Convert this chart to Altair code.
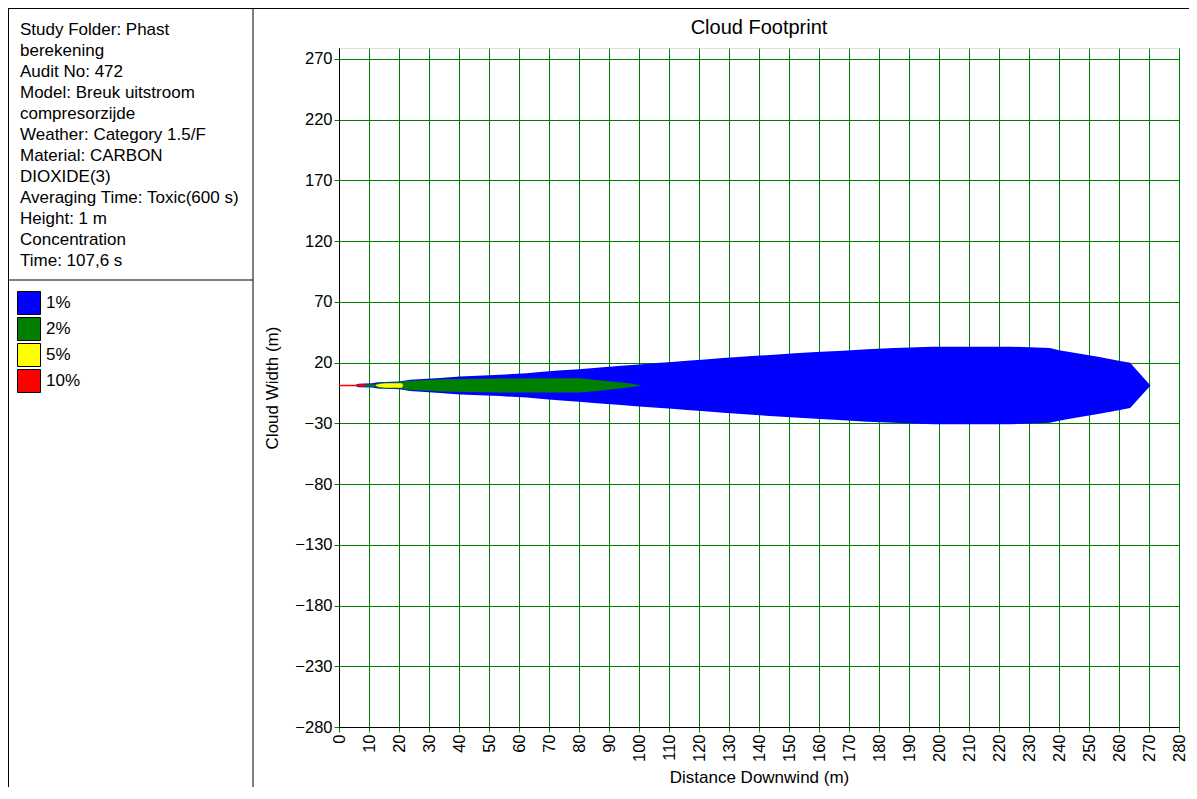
import altair as alt
import pandas as pd

# ---------------- data ----------------
levels = ["1%", "2%", "5%", "10%"]
level_colors = ["#0000FF", "#008000", "#FFFF00", "#FF0000"]

# cloud footprint half-widths (m) against distance downwind (m)
blue_x = [5, 6.5, 11, 13, 20, 23.7, 33.7, 40.3, 53.7, 62.6, 67, 73, 80, 87, 93, 100,
          106, 111, 116, 122, 128, 133, 139, 145, 152, 159, 168, 176, 185, 198, 224,
          237, 240, 246, 253, 259, 263.7, 270.5]
blue_hw = [0, 1.4, 1.8, 2.6, 3.2, 4.6, 6.2, 7.4, 8.8, 10.0, 11.0, 12.2, 13.4, 14.8, 16.0, 17.3,
           18.4, 19.2, 20.3, 21.3, 22.5, 23.4, 24.4, 25.3, 26.5, 27.5, 28.6, 29.8, 30.8, 31.9, 31.9,
           30.8, 29.0, 26.5, 23.6, 20.8, 18.6, 0]
green_x = [7, 12.5, 13, 21, 21.5, 34, 54, 80, 86, 92.6, 97, 101]
green_hw = [0.8, 1.0, 2.3, 2.6, 3.4, 5.0, 5.8, 5.9, 4.5, 2.8, 1.5, 0]
yellow_x = [12.3, 13.5, 15.5, 21.0, 21.4]
yellow_hw = [0.5, 1.2, 1.9, 1.9, 0]
red_x = [0, 6.3, 6.4, 8.7, 8.8]
red_hw = [0.6, 0.6, 0.9, 0.9, 0]
cloud_center = 1.2

chart_title = "Cloud Footprint"
info_lines = [
    "Study Folder: Phast",
    "berekening",
    "Audit No: 472",
    "Model: Breuk uitstroom",
    "compresorzijde",
    "Weather: Category 1.5/F",
    "Material: CARBON",
    "DIOXIDE(3)",
    "Averaging Time: Toxic(600 s)",
    "Height: 1 m",
    "Concentration",
    "Time: 107,6 s",
]

x_ticks = [0, 10, 20, 30, 40, 50, 60, 70, 80, 90, 100, 110, 120, 130, 140, 150, 160,
           170, 180, 190, 200, 210, 220, 230, 240, 250, 260, 270, 280]
y_ticks = [-280, -230, -180, -130, -80, -30, 20, 70, 120, 170, 220, 270]

FONT = "Liberation Sans"
W, H = 840, 679
PAD = {"left": 331, "top": 40, "right": 10, "bottom": 60}

# ---------------- build table ----------------
rows = []
for lev, xs, hws in [("1%", blue_x, blue_hw), ("2%", green_x, green_hw),
                     ("5%", yellow_x, yellow_hw), ("10%", red_x, red_hw)]:
    for xv, hv in zip(xs, hws):
        rows.append({"level": lev, "x": xv, "lo": cloud_center - hv, "hi": cloud_center + hv})
df = pd.DataFrame(rows)

xscale = alt.Scale(domain=[0, 280], nice=False, zero=False)
yscale = alt.Scale(domain=[-280, 279], nice=False, zero=False)
cscale = alt.Scale(domain=levels, range=level_colors)

legend = alt.Legend(
    orient="none", legendX=-322, legendY=243, title=None,
    symbolType="square", symbolSize=529, symbolStrokeColor="#000000",
    symbolStrokeWidth=1, symbolOpacity=1, labelFont=FONT, labelFontSize=17,
    labelColor="#000000", labelOffset=5, rowPadding=-3, padding=0,
)

xaxis = alt.Axis(
    values=x_ticks, labelAngle=270, labelFont=FONT, labelFontSize=16.5, labelColor="#000000",
    tickSize=5, tickColor="#008000", labelPadding=2, grid=True, gridColor="#008000",
    gridOpacity=1, gridWidth=1, domainColor="#000000", title="Distance Downwind (m)",
    titleFont=FONT, titleFontSize=17, titleFontWeight="normal", titleColor="#000000",
    titlePadding=8, labelFlush=False, labelOverlap=False,
)
yaxis = alt.Axis(
    values=y_ticks, labelFont=FONT, labelFontSize=16.5, labelColor="#000000",
    tickSize=5, tickColor="#008000", labelPadding=2, grid=True, gridColor="#008000",
    gridOpacity=1, gridWidth=1, domainColor="#000000", title="Cloud Width (m)",
    titleFont=FONT, titleFontSize=17, titleFontWeight="normal", titleColor="#000000",
    titlePadding=13, labelFlush=False, labelOverlap=False,
)

layers = []
for lev in levels:
    layers.append(
        alt.Chart(df).transform_filter(alt.datum.level == lev)
        .mark_area(interpolate="linear", opacity=1, strokeWidth=0)
        .encode(
            x=alt.X("x:Q", scale=xscale, axis=xaxis),
            y=alt.Y("lo:Q", scale=yscale, axis=yaxis),
            y2="hi:Q",
            color=alt.Color("level:N", scale=cscale, legend=legend),
        )
    )

one = pd.DataFrame({"k": [0]})

def rule(x, x2, y, y2):
    return alt.Chart(one).mark_rule(color="#000000", strokeWidth=1).encode(
        x=alt.value(x), x2=alt.value(x2), y=alt.value(y), y2=alt.value(y2))

frames = [
    rule(-330.5, W + 10, -39.5, -39.5),      # top frame
    rule(-330.5, -330.5, -40, H + 60),       # left frame
    rule(-86, -86, -40, H + 60),             # panel divider
    rule(-331, -86, 232, 232),               # info / legend divider
]

info = alt.Chart(one).mark_text(
    text=info_lines, align="left", baseline="alphabetic", lineHeight=21,
    font=FONT, fontSize=17, color="#000000",
).encode(x=alt.value(-319), y=alt.value(-13))

title = alt.Chart(one).mark_text(
    text=chart_title, align="center", baseline="middle",
    font=FONT, fontSize=20, color="#000000",
).encode(x=alt.value(W / 2), y=alt.value(-20))

chart = alt.layer(*layers, *frames, info, title).properties(
    width=W, height=H,
    autosize=alt.AutoSizeParams(type="none"),
    padding=PAD,
).configure_view(stroke="#000000", strokeWidth=1).configure(background="#FFFFFF")

chart.save("out.html", embed_options={"renderer": "svg", "actions": False})
